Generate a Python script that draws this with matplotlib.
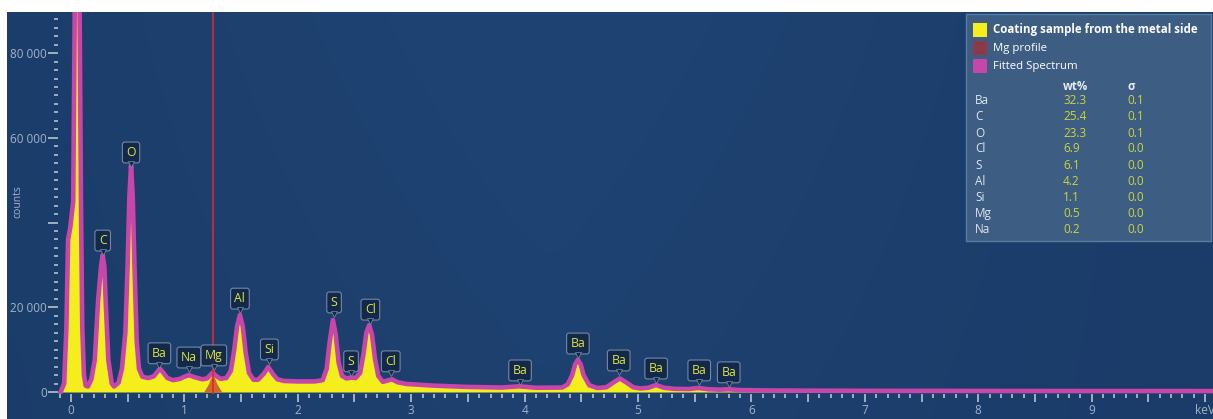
import matplotlib
matplotlib.use("Agg")
import matplotlib.pyplot as plt
import numpy as np
from matplotlib.patches import Rectangle
from matplotlib.colors import to_rgb
from matplotlib.ticker import MultipleLocator, FuncFormatter
from matplotlib.transforms import ScaledTranslation

W, H = 1213, 419

# spectrum (keV, counts)
energy_kev = [-0.09, -0.06, -0.04, -0.025, -0.005, 0.02, 0.035, 0.075, 0.09, 0.10,
              0.115, 0.13, 0.15, 0.18, 0.21, 0.24, 0.265, 0.28, 0.295, 0.306,
              0.33, 0.36, 0.38, 0.42, 0.45, 0.48, 0.50, 0.515, 0.53, 0.545,
              0.56, 0.58, 0.60, 0.63, 0.68, 0.73, 0.76, 0.785, 0.81, 0.85,
              0.90, 0.96, 1.00, 1.04, 1.09, 1.16, 1.20, 1.225, 1.25, 1.275,
              1.32, 1.37, 1.41, 1.44, 1.465, 1.49, 1.515, 1.54, 1.57, 1.61,
              1.65, 1.70, 1.74, 1.78, 1.82, 1.88, 2.00, 2.15, 2.22, 2.255,
              2.28, 2.31, 2.335, 2.36, 2.39, 2.43, 2.47, 2.51, 2.55, 2.58,
              2.605, 2.63, 2.655, 2.68, 2.71, 2.75, 2.79, 2.83, 2.88, 2.96,
              3.20, 3.50, 3.80, 3.95, 4.10, 4.33, 4.38, 4.42, 4.445, 4.47,
              4.495, 4.52, 4.57, 4.64, 4.72, 4.78, 4.84, 4.90, 4.96, 5.02,
              5.09, 5.16, 5.23, 5.32, 5.45, 5.53, 5.62, 5.72, 5.80, 5.90,
              6.20, 7.00, 8.00, 9.00, 10.10]
fitted_counts = [0, 2000, 15000, 36000, 39000, 45000, 95000, 95000, 40000, 15000,
                 4000, 1500, 1300, 3000, 7500, 21700, 29500, 32300, 29500, 21700,
                 7500, 2000, 1300, 2200, 5500, 14000, 30000, 46000, 53500, 46000,
                 30000, 12000, 5500, 3600, 3300, 3700, 4700, 5500, 4700, 3300,
                 2800, 3100, 3600, 4000, 3500, 3000, 3200, 3900, 4600, 3900,
                 3100, 3300, 5000, 10000, 15500, 18200, 15500, 9500, 4500, 2900,
                 2900, 4300, 5900, 4300, 3000, 2600, 2500, 2500, 2800, 5500,
                 11500, 17000, 13500, 7000, 3800, 3200, 3400, 3300, 4500, 9000,
                 14000, 15800, 13500, 8000, 3800, 2400, 2700, 3000, 2300, 1900,
                 1500, 1200, 1050, 1350, 1000, 1050, 1800, 4000, 6500, 7600,
                 6500, 4000, 1600, 950, 1100, 2200, 3200, 2200, 1100, 850,
                 1000, 1650, 1000, 750, 700, 950, 650, 550, 650, 450,
                 350, 280, 250, 230, 220]

mg_profile_kev = [1.17, 1.21, 1.25, 1.29, 1.33]
mg_profile_counts = [0, 1800, 4300, 1800, 0]
mg_marker_kev = 1.254

# peak labels: name, energy, counts at pointer tip
peak_names = ["C", "O", "Ba", "Na", "Mg", "Al", "Si", "S", "S", "Cl", "Cl",
              "Ba", "Ba", "Ba", "Ba", "Ba", "Ba"]
peak_kev = [0.28, 0.53, 0.78, 1.04, 1.26, 1.49, 1.75, 2.32, 2.47, 2.64, 2.82,
            3.96, 4.47, 4.83, 5.16, 5.54, 5.80]
peak_counts = [32300, 53100, 5700, 4700, 5200, 18600, 6600, 17700, 3800, 16000, 3800,
               1650, 8000, 4000, 2100, 1650, 1200]

legend_labels = ["Coating sample from the metal side", "Mg profile", "Fitted Spectrum"]
table_elements = ["Ba", "C", "O", "Cl", "S", "Al", "Si", "Mg", "Na"]
table_wt = ["32.3", "25.4", "23.3", "6.9", "6.1", "4.2", "1.1", "0.5", "0.2"]
table_sigma = ["0.1", "0.1", "0.1", "0.0", "0.0", "0.0", "0.0", "0.0", "0.0"]

YELLOW = "#f4ee1c"
MAGENTA = "#c846aa"
MGRED = "#8c3a4a"
TICK = "#c4cedb"
LABEL = "#a3b3c8"
VALUE = "#cdd43e"
BOXFC = "#132848"
BOXEC = "#7d8fa8"

plt.rcParams["font.family"] = ["Open Sans", "DejaVu Sans"]

fig = plt.figure(figsize=(W / 100, H / 100), dpi=100, facecolor="white")

# dark blue backdrop with a faint lighter band in the middle
bg_ax = fig.add_axes([7 / W, 0, 1 - 7 / W, 1 - 12 / H], zorder=-10)
bg_ax.axis("off")
c_edge = np.array(to_rgb("#1b3c69"))
c_mid = np.array(to_rgb("#1f4474"))
gx = np.linspace(0, 1, 64)
wx = np.clip(1 - np.abs(gx - 0.45) / 0.55, 0, 1)[None, :, None]
gy = np.linspace(0, 1, 32)
wy = (0.6 + 0.4 * (1 - gy))[:, None, None]
grad = c_edge + (c_mid - c_edge) * wx * wy
bg_ax.imshow(grad, aspect="auto", interpolation="bicubic", extent=[0, 1, 0, 1])

ax = fig.add_axes([58 / W, (H - 394) / H, (W - 58) / W, (394 - 12) / H])
ax.set_facecolor("none")
for s in ax.spines.values():
    s.set_visible(False)
ax.set_xlim(-0.114, 10.07)
ax.set_ylim(-470, 89700)

ax.fill_between(energy_kev, 0, fitted_counts, color=YELLOW, lw=0, zorder=2)
ax.fill_between(mg_profile_kev, 0, mg_profile_counts, color="#c8502d", alpha=0.85, lw=0, zorder=3)
ax.plot(energy_kev, fitted_counts, color=MAGENTA, lw=3.3, solid_joinstyle="round", zorder=4)
ax.axvline(mg_marker_kev, color="#e5262a", lw=1.2, zorder=5)

# peak label boxes with a small pointer
tri_shift = ScaledTranslation(0, 2.4 / 72, fig.dpi_scale_trans)
for name, kev, cnt in zip(peak_names, peak_kev, peak_counts):
    ax.annotate(name, xy=(kev, cnt), xytext=(0, 10.5), textcoords="offset points",
                ha="center", va="center", color="#e2e43a", fontsize=8.8, zorder=7,
                bbox=dict(boxstyle="round,pad=0.32,rounding_size=0.2", fc=BOXFC,
                          ec=BOXEC, lw=0.8, alpha=0.92))
    ax.plot(kev, cnt, marker="v", ms=4.2, color=BOXFC, mec=BOXEC, mew=0.5,
            transform=ax.transData + tri_shift, zorder=8, clip_on=False)

# ticks
ax.yaxis.set_major_locator(MultipleLocator(20000))
ax.yaxis.set_minor_locator(MultipleLocator(2000))
ax.yaxis.set_major_formatter(FuncFormatter(
    lambda v, p: "" if int(v) == 40000 else ("0" if v == 0 else f"{int(v) // 1000} 000")))
ax.xaxis.set_major_locator(MultipleLocator(0.5))
ax.xaxis.set_minor_locator(MultipleLocator(0.1))
ax.xaxis.set_major_formatter(FuncFormatter(
    lambda v, p: ("keV" if round(v) == 10 else f"{int(round(v))}") if abs(v - round(v)) < 1e-6 else ""))
ax.tick_params(axis="both", which="both", direction="out", color=TICK, labelcolor=LABEL,
               labelsize=8.5, width=1.1)
ax.tick_params(axis="y", which="major", length=7, pad=1)
ax.tick_params(axis="y", which="minor", length=3)
ax.tick_params(axis="x", which="major", length=5.5, pad=2)
ax.tick_params(axis="x", which="minor", length=3)

fig.text(18 / W, 1 - 202 / H, "counts", rotation=90, ha="center", va="center",
         color=LABEL, fontsize=7.5)

# legend / results panel
def fx(px):
    return px / W

def fy(py):
    return 1 - py / H

fig.patches.append(Rectangle((fx(966), fy(241)), 245 / W, 227 / H, transform=fig.transFigure,
                             facecolor="#3d5d82", edgecolor="#5b7ba0", lw=1, zorder=5))
swatches = [YELLOW, MGRED, MAGENTA]
legend_y = [30, 48, 66]
for lab, col, y in zip(legend_labels, swatches, legend_y):
    fig.patches.append(Rectangle((fx(973), fy(y + 7)), 14 / W, 14 / H, transform=fig.transFigure,
                                 facecolor=col, edgecolor="none", zorder=6))
    fig.text(fx(993), fy(y), lab, ha="left", va="center", color="white",
             fontsize=8.3 if y == 30 else 8.2,
             fontweight="bold" if y == 30 else "normal", zorder=7)

fig.text(fx(1063), fy(86), "wt%", ha="left", va="center", color="#e6ebf2", fontsize=8.3,
         fontweight="bold", zorder=7)
fig.text(fx(1128), fy(86), "σ", ha="left", va="center", color="#e6ebf2", fontsize=8.3,
         fontweight="bold", zorder=7)
for i, (el, wt, sg) in enumerate(zip(table_elements, table_wt, table_sigma)):
    y = 101 + 16 * i
    fig.text(fx(975), fy(y), el, ha="left", va="center", color="#e0e6ee", fontsize=8.5, zorder=7)
    fig.text(fx(1063), fy(y), wt, ha="left", va="center", color=VALUE, fontsize=8.5, zorder=7)
    fig.text(fx(1127), fy(y), sg, ha="left", va="center", color=VALUE, fontsize=8.5, zorder=7)

fig.savefig("out.png", dpi=100, facecolor=fig.get_facecolor())
